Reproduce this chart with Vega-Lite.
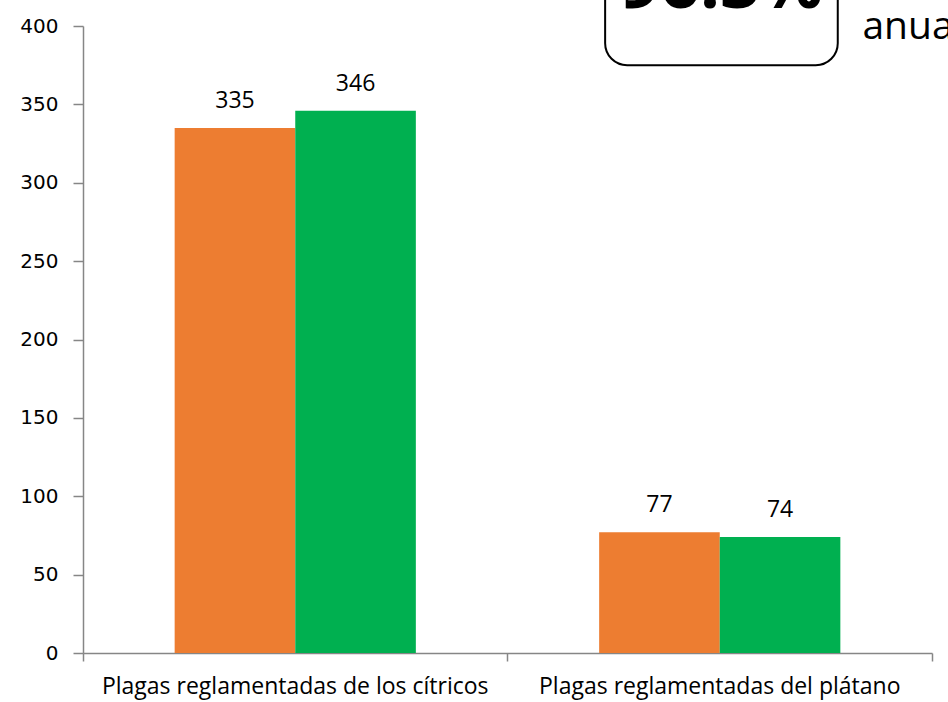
{
  "$schema": "https://vega.github.io/schema/vega-lite/v6.json",
  "width": 849,
  "height": 627,
  "autosize": {"type": "none"},
  "padding": {"left": 83, "top": 26, "right": 16, "bottom": 49},
  "background": "white",
  "config": {
    "view": {"stroke": null},
    "axisY": {
      "title": null, "grid": false,
      "domainColor": "#868686", "tickColor": "#868686", "tickSize": 10,
      "labelFont": "DejaVu Sans", "labelFontSize": 20, "labelColor": "#000000",
      "labelPadding": 15, "domainWidth": 1.5, "tickWidth": 1.5
    },
    "axisX": {
      "title": null, "labelAngle": 0, "labelLimit": 0,
      "domainColor": "#868686", "tickColor": "#868686", "tickSize": 8,
      "labelFont": "Open Sans", "labelFontSize": 23, "labelColor": "#000000",
      "labelPadding": 14, "domainWidth": 1.5, "tickWidth": 1.5
    }
  },
  "datasets": {
    "main": [
      {"categoria": "Plagas reglamentadas de los cítricos", "serie": "A", "valor": 335},
      {"categoria": "Plagas reglamentadas de los cítricos", "serie": "B", "valor": 346},
      {"categoria": "Plagas reglamentadas del plátano", "serie": "A", "valor": 77},
      {"categoria": "Plagas reglamentadas del plátano", "serie": "B", "valor": 74}
    ],
    "box": [
      {"x1": 0.615, "x2": 0.889, "y1": 375, "y2": 450}
    ],
    "notes": [
      {"x": 0.752, "y": 411.5, "texto": "96.3%", "tipo": "big"},
      {"x": 0.918, "y": 391.5, "texto": "anual", "tipo": "small"}
    ]
  },
  "layer": [
    {
      "data": {"name": "main"},
      "layer": [
        {
          "mark": {"type": "bar"},
          "encoding": {
            "x": {
              "field": "categoria", "type": "nominal", "sort": null,
              "scale": {"paddingInner": 0, "paddingOuter": 0},
              "axis": {"bandPosition": 1, "tickExtra": true, "labelLimit": 0}
            },
            "xOffset": {"field": "serie", "type": "nominal", "scale": {"paddingInner": 0, "paddingOuter": 0.76}},
            "y": {
              "field": "valor", "type": "quantitative",
              "scale": {"domain": [0, 400], "nice": false},
              "axis": {"values": [0, 50, 100, 150, 200, 250, 300, 350, 400]}
            },
            "color": {
              "field": "serie", "type": "nominal",
              "scale": {"domain": ["A", "B"], "range": ["#ED7D31", "#00B050"]},
              "legend": null
            }
          }
        },
        {
          "mark": {"type": "text", "baseline": "alphabetic", "dy": -20, "font": "Open Sans", "fontSize": 23, "color": "#000000"},
          "encoding": {
            "x": {"field": "categoria", "type": "nominal", "sort": null},
            "xOffset": {"field": "serie", "type": "nominal"},
            "y": {"field": "valor", "type": "quantitative"},
            "text": {"field": "valor", "type": "quantitative"}
          }
        }
      ]
    },
    {
      "layer": [
        {
          "data": {"name": "box"},
          "mark": {"type": "rect", "cornerRadius": 22, "fill": "white", "stroke": "#000000", "strokeWidth": 2},
          "encoding": {
            "x": {"field": "x1", "type": "quantitative", "scale": {"domain": [0, 1], "nice": false, "zero": false}, "axis": null},
            "x2": {"field": "x2"},
            "y": {"field": "y1", "type": "quantitative", "axis": {"values": [0, 50, 100, 150, 200, 250, 300, 350, 400]}},
            "y2": {"field": "y2"}
          }
        },
        {
          "data": {"name": "notes"},
          "transform": [{"filter": "datum.tipo == 'big'"}],
          "mark": {"type": "text", "baseline": "alphabetic", "align": "center", "font": "Open Sans", "fontWeight": "bold", "fontSize": 70, "color": "#000000"},
          "encoding": {
            "x": {"field": "x", "type": "quantitative"},
            "y": {"field": "y", "type": "quantitative"},
            "text": {"field": "texto"}
          }
        },
        {
          "data": {"name": "notes"},
          "transform": [{"filter": "datum.tipo == 'small'"}],
          "mark": {"type": "text", "baseline": "alphabetic", "align": "left", "font": "Open Sans", "fontSize": 39, "color": "#000000"},
          "encoding": {
            "x": {"field": "x", "type": "quantitative"},
            "y": {"field": "y", "type": "quantitative"},
            "text": {"field": "texto"}
          }
        }
      ]
    }
  ],
  "resolve": {"scale": {"x": "independent"}}
}
